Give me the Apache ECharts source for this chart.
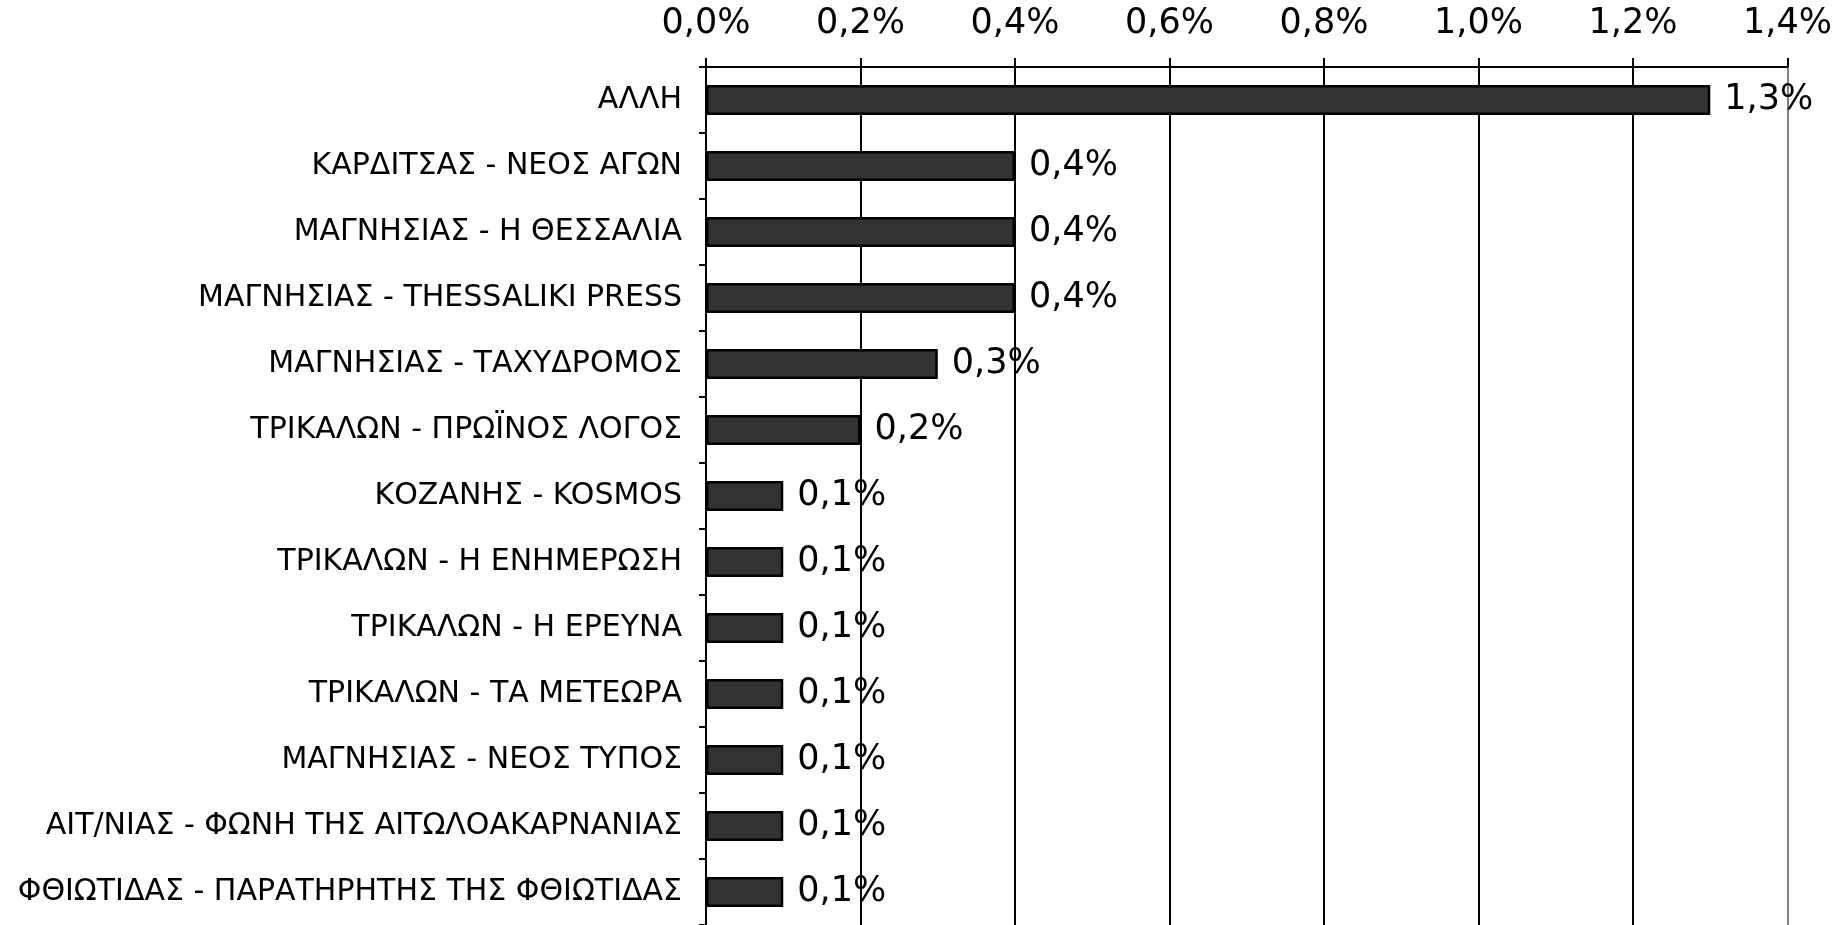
<!DOCTYPE html>
<html>
<head>
<meta charset="utf-8">
<script src="https://cdn.jsdelivr.net/npm/echarts@6/dist/echarts.min.js"></script>
<style>
  html, body { margin: 0; padding: 0; background: #fff; }
  #chart { width: 1835px; height: 925px; }
</style>
</head>
<body>
<div id="chart"></div>
<script>
const categories = [
  'ΑΛΛΗ',
  'ΚΑΡΔΙΤΣΑΣ - ΝΕΟΣ ΑΓΩΝ',
  'ΜΑΓΝΗΣΙΑΣ - Η ΘΕΣΣΑΛΙΑ',
  'ΜΑΓΝΗΣΙΑΣ - THESSALIKI PRESS',
  'ΜΑΓΝΗΣΙΑΣ - ΤΑΧΥΔΡΟΜΟΣ',
  'ΤΡΙΚΑΛΩΝ - ΠΡΩΪΝΟΣ ΛΟΓΟΣ',
  'ΚΟΖΑΝΗΣ - KOSMOS',
  'ΤΡΙΚΑΛΩΝ - Η ΕΝΗΜΕΡΩΣΗ',
  'ΤΡΙΚΑΛΩΝ - Η ΕΡΕΥΝΑ',
  'ΤΡΙΚΑΛΩΝ - ΤΑ ΜΕΤΕΩΡΑ',
  'ΜΑΓΝΗΣΙΑΣ - ΝΕΟΣ ΤΥΠΟΣ',
  'ΑΙΤ/ΝΙΑΣ - ΦΩΝΗ ΤΗΣ ΑΙΤΩΛΟΑΚΑΡΝΑΝΙΑΣ',
  'ΦΘΙΩΤΙΔΑΣ - ΠΑΡΑΤΗΡΗΤΗΣ ΤΗΣ ΦΘΙΩΤΙΔΑΣ'
];
const shares = [1.3, 0.4, 0.4, 0.4, 0.3, 0.2, 0.1, 0.1, 0.1, 0.1, 0.1, 0.1, 0.1];
const axisMax = 1.4;
const axisStep = 0.2;

const pct = v => v.toFixed(1).replace('.', ',') + '%';

const chart = echarts.init(document.getElementById('chart'));

chart.setOption({
  animation: false,
  grid: {
    left: 706,
    right: 47,
    top: 67,
    bottom: -3
  },
  xAxis: {
    type: 'value',
    position: 'top',
    min: 0,
    max: axisMax,
    interval: axisStep,
    axisLine: { show: true, lineStyle: { color: '#000', width: 2 } },
    axisTick: { show: true, length: 9, lineStyle: { color: '#000', width: 2 } },
    axisLabel: {
      color: '#000',
      fontFamily: 'DejaVu Sans',
      fontSize: 35,
      margin: 26,
      formatter: pct
    },
    splitLine: {
      show: true,
      lineStyle: {
        color: ['#000', '#000', '#000', '#000', '#000', '#000', '#000', '#808080'],
        width: 2
      }
    }
  },
  yAxis: {
    type: 'category',
    inverse: true,
    data: categories,
    axisLine: { show: true, lineStyle: { color: '#000', width: 2 } },
    axisTick: { show: true, length: 7, lineStyle: { color: '#000', width: 2 } },
    axisLabel: {
      color: '#000',
      fontFamily: 'DejaVu Sans',
      fontSize: 30,
      margin: 24
    }
  },
  series: [{
    type: 'bar',
    data: shares,
    barWidth: 30,
    itemStyle: {
      color: '#333333',
      borderColor: '#000',
      borderWidth: 2.5
    },
    label: {
      show: true,
      position: 'right',
      distance: 14,
      color: '#000',
      fontFamily: 'DejaVu Sans',
      fontSize: 35,
      formatter: p => pct(p.value)
    }
  }]
});
</script>
</body>
</html>
